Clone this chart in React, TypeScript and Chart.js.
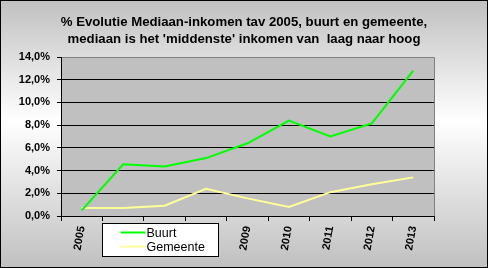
import React, { useEffect, useRef } from "react";
import { Chart, registerables } from "chart.js";

Chart.register(...registerables);

const categories = ["2005", "2006", "2007", "2008", "2009", "2010", "2011", "2012", "2013"];
const buurt = [0.5, 4.55, 4.35, 5.1, 6.4, 8.4, 7.0, 8.15, 12.8];
const gemeente = [0.7, 0.7, 0.9, 2.4, 1.55, 0.8, 2.1, 2.8, 3.4];
const titleLines = [
  "% Evolutie Mediaan-inkomen tav 2005, buurt en gemeente,",
  "mediaan is het 'middenste' inkomen van  laag naar hoog",
];
const yTicks = { min: 0, max: 14, step: 2 };

const FONT = "'Liberation Sans', Arial, sans-serif";

const decorPlugin = {
  id: "decor",
  beforeDraw(chart: any) {
    const { ctx, width, height, chartArea } = chart;
    ctx.save();
    const g = ctx.createLinearGradient(0, 0, 0, height);
    g.addColorStop(0, "#c0c0c0");
    g.addColorStop(0.45, "#ffffff");
    g.addColorStop(1, "#c0c0c0");
    ctx.fillStyle = g;
    ctx.fillRect(0, 0, width, height);
    ctx.fillStyle = "#c0c0c0";
    ctx.fillRect(chartArea.left, chartArea.top, chartArea.right - chartArea.left, chartArea.bottom - chartArea.top);
    ctx.strokeStyle = "#808080";
    ctx.lineWidth = 1;
    ctx.beginPath();
    ctx.moveTo(chartArea.left, chartArea.top + 0.5);
    ctx.lineTo(chartArea.right + 0.5, chartArea.top + 0.5);
    ctx.lineTo(chartArea.right + 0.5, chartArea.bottom);
    ctx.stroke();
    // title
    ctx.fillStyle = "#000";
    ctx.font = `bold 13.2px ${FONT}`;
    ctx.textAlign = "center";
    ctx.textBaseline = "middle";
    titleLines.forEach((t, i) => ctx.fillText(t, width / 2, 22 + i * 17));
    ctx.restore();
  },
  afterDraw(chart: any) {
    const { ctx, width, height, chartArea } = chart;
    ctx.save();
    // legend
    const lx = chartArea.left + 41.5;
    const ly = chartArea.bottom + 7.5;
    const lw = 116;
    const lh = 33;
    ctx.fillStyle = "#fff";
    ctx.fillRect(lx, ly, lw, lh);
    ctx.strokeStyle = "#000";
    ctx.lineWidth = 1;
    ctx.strokeRect(lx, ly, lw, lh);
    chart.data.datasets.forEach((ds: any, i: number) => {
      const y = ly + 9 + i * 14;
      ctx.strokeStyle = ds.borderColor;
      ctx.lineWidth = 2;
      ctx.beginPath();
      ctx.moveTo(lx + 18, y);
      ctx.lineTo(lx + 43, y);
      ctx.stroke();
      ctx.fillStyle = "#000";
      ctx.font = `12.5px ${FONT}`;
      ctx.textAlign = "left";
      ctx.textBaseline = "middle";
      ctx.fillText(ds.label, lx + 44, y + 1);
    });
    // outer border
    ctx.strokeStyle = "#000";
    ctx.lineWidth = 1;
    ctx.strokeRect(0.5, 0.5, width - 1, height - 1);
    ctx.restore();
  },
};

export default function App() {
  const ref = useRef<HTMLCanvasElement>(null);
  useEffect(() => {
    document.body.style.margin = "0";
    const chart = new Chart(ref.current!, {
      type: "line",
      data: {
        labels: categories,
        datasets: [
          { label: "Buurt", data: buurt, borderColor: "#00ff00", borderWidth: 2, pointRadius: 0, tension: 0, fill: false },
          { label: "Gemeente", data: gemeente, borderColor: "#ffff99", borderWidth: 2, pointRadius: 0, tension: 0, fill: false },
        ],
      },
      options: {
        animation: false,
        responsive: true,
        maintainAspectRatio: false,
        layout: { padding: { left: 0, top: 57, right: 54, bottom: 0 } },
        plugins: { legend: { display: false }, title: { display: false }, tooltip: { enabled: false } },
        scales: {
          x: {
            type: "category",
            offset: true,
            grid: { offset: true, drawOnChartArea: false, drawTicks: true, tickLength: 5, color: "#000" },
            border: { color: "#000", width: 1 },
            ticks: {
              minRotation: 80,
              maxRotation: 80,
              autoSkip: false,
              padding: 4,
              color: "#000",
              font: { family: FONT, size: 11, weight: "bold" },
            },
            afterFit: (s: any) => { s.height = 52; },
          },
          y: {
            min: yTicks.min,
            max: yTicks.max,
            ticks: {
              stepSize: yTicks.step,
              color: "#000",
              padding: 7,
              font: { family: FONT, size: 11, weight: "bold" },
              callback: (v: any) => Number(v).toFixed(1).replace(".", ",") + "%",
            },
            grid: {
              color: (c: any) => (c.tick && c.tick.value === yTicks.max ? "rgba(0,0,0,0)" : "#000"),
              tickColor: "#000",
              tickLength: 4,
              lineWidth: 1,
            },
            border: { color: "#000", width: 1 },
            afterFit: (s: any) => { s.width = 61; },
          },
        },
      },
      plugins: [decorPlugin],
    });
    return () => chart.destroy();
  }, []);
  return (
    <div style={{ width: 488, height: 268, position: "relative" }}>
      <canvas ref={ref} />
    </div>
  );
}
